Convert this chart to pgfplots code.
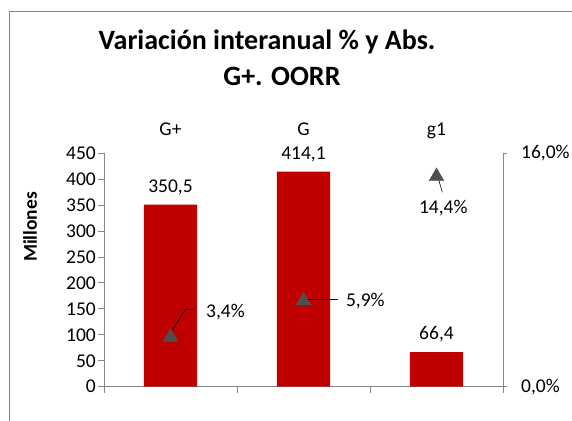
\documentclass[border=0pt]{standalone}
\usepackage{pgfplots}
\pgfplotsset{compat=1.18}
\usepackage{fontspec}
\setmainfont{Carlito}
\definecolor{barred}{HTML}{C00000}
\definecolor{axgray}{HTML}{868686}
\definecolor{mk}{HTML}{4F4F4F}
\pgfplotsset{/pgf/number format/assume math mode=true}
\newcommand{\tf}{\fontsize{19.5bp}{23bp}\selectfont}
\begin{document}
\begin{tikzpicture}[font=\tf]
\path[use as bounding box] (-104bp,-34.3bp) rectangle (468bp,386.7bp);
\draw[axgray, line width=1bp] (-94.7bp,-40bp) -- (-94.7bp,375bp) -- (480bp,375bp);
\node[anchor=base, font=\bfseries\fontsize{28bp}{33bp}\selectfont] at (163bp,336.7bp) {Variación interanual \% y Abs.};
\node[anchor=base, font=\bfseries\fontsize{28bp}{33bp}\selectfont] at (178bp,300.7bp) {G+. OORR};
\begin{axis}[
  scale only axis, width=399bp, height=233.6bp,
  xmin=-0.5, xmax=2.5, ymin=0, ymax=450,
  axis x line*=bottom, axis y line*=left,
  axis line style={axgray, line width=0.8bp},
  xtick={-0.5,0.5,1.5,2.5}, xticklabels={},
  ytick={0,50,...,450},
  tick align=outside, major tick length=6bp,
  tick style={axgray, line width=0.8bp},
  ticklabel style={font=\tf},
  yticklabel style={anchor=east, inner sep=0pt, xshift=-2bp},
  ylabel={Millones},
  ylabel style={font=\bfseries\tf, at={(rel axis cs:-0.1855,0.6836)}, anchor=center},
  ybar, bar width=53.3bp,
  nodes near coords={\pgfmathprintnumber[fixed,fixed zerofill,precision=1,use comma]{\pgfplotspointmeta}},
  nodes near coords style={anchor=base, yshift=12.3bp, font=\tf, text=black},
]
\addplot[fill=barred, draw=none] coordinates {(0,350.5) (1,414.1) (2,66.4)};
\end{axis}
\begin{axis}[
  scale only axis, width=399bp, height=233.6bp,
  xmin=-0.5, xmax=2.5, ymin=0, ymax=16,
  axis x line*=top, axis y line*=right,
  x axis line style={draw=none},
  y axis line style={axgray, line width=0.8bp},
  xtick={0,1,2}, xticklabels={G+,G,g1},
  x tick style={draw=none},
  xticklabel style={anchor=base, yshift=14bp},
  ytick={0,16}, yticklabels={{0,0\%},{16,0\%}},
  tick align=outside, major tick length=4bp,
  y tick style={axgray, line width=0.8bp},
  ticklabel style={font=\tf},
  yticklabel style={anchor=west, inner sep=0pt, xshift=14bp},
]
\addplot[only marks, mark=triangle*, mark size=8.5bp, mk] coordinates {(0,3.4) (1,5.9) (2,14.4)};
\draw[black, line width=0.6bp] ([shift={(0bp,4bp)}]axis cs:0,3.4) -- ([shift={(15bp,27.8bp)}]axis cs:0,3.4) -- ([shift={(23.3bp,27.8bp)}]axis cs:0,3.4);
\draw[black, line width=0.6bp] ([shift={(0bp,1.3bp)}]axis cs:1,5.9) -- ([shift={(34bp,1.3bp)}]axis cs:1,5.9);
\draw[black, line width=0.6bp] ([shift={(0.8bp,1.5bp)}]axis cs:2,14.4) -- ([shift={(5.8bp,-15.8bp)}]axis cs:2,14.4);
\node[anchor=base west, inner sep=0pt] at ([shift={(35.5bp,19.2bp)}]axis cs:0,3.4) {3,4\%};
\node[anchor=base west, inner sep=0pt] at ([shift={(42.3bp,-5.6bp)}]axis cs:1,5.9) {5,9\%};
\node[anchor=base, inner sep=0pt] at ([shift={(6.8bp,-37.4bp)}]axis cs:2,14.4) {14,4\%};
\end{axis}
\end{tikzpicture}
\end{document}
